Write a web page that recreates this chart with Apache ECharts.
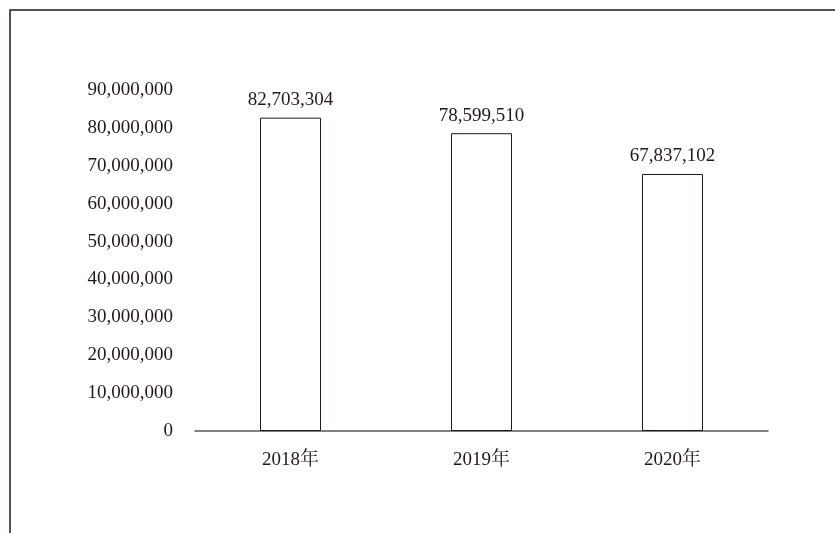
<!DOCTYPE html>
<html><head><meta charset="utf-8">
<script src="https://cdn.jsdelivr.net/npm/echarts@6/dist/echarts.min.js"></script>
<style>html,body{margin:0;padding:0;background:#fff}#c{width:835px;height:533px}</style>
</head><body><div id="c"></div>
<script>
const categories = ['2018年', '2019年', '2020年'];
const values = [82703304, 78599510, 67837102];
const yTicks = { min: 0, max: 90000000, interval: 10000000 };

const font = '"Liberation Serif", "Times New Roman", "Noto Serif CJK SC", "Noto Sans CJK SC", serif';
const fmt = v => v.toLocaleString('en-US');
const chart = echarts.init(document.getElementById('c'));
chart.setOption({
  animation: false,
  backgroundColor: '#fff',
  textStyle: { fontFamily: font },
  grid: { left: 195, right: 67, top: 90, bottom: 102, containLabel: false },
  graphic: [{
    type: 'polyline', silent: true,
    shape: { points: [[10, 533], [10, 10], [835, 10]] },
    style: { stroke: '#231815', lineWidth: 1.5, fill: null }
  }],
  xAxis: {
    type: 'category', data: categories,
    axisLine: { lineStyle: { color: '#595757', width: 1.5 } },
    axisTick: { show: false },
    axisLabel: { color: '#231815', fontSize: 19, margin: 20, fontFamily: font }
  },
  yAxis: {
    type: 'value', min: yTicks.min, max: yTicks.max, interval: yTicks.interval,
    axisLine: { show: false }, axisTick: { show: false },
    splitLine: { show: false },
    axisLabel: { color: '#231815', fontSize: 19, margin: 22, fontFamily: font, formatter: fmt }
  },
  series: [{
    type: 'bar', data: values, barWidth: 61,
    itemStyle: { color: '#fff', borderColor: '#231815', borderWidth: 1 },
    label: { show: true, position: 'top', distance: 8, color: '#231815', fontSize: 19, fontFamily: font, formatter: p => fmt(p.value) }
  }]
});
</script></body></html>
